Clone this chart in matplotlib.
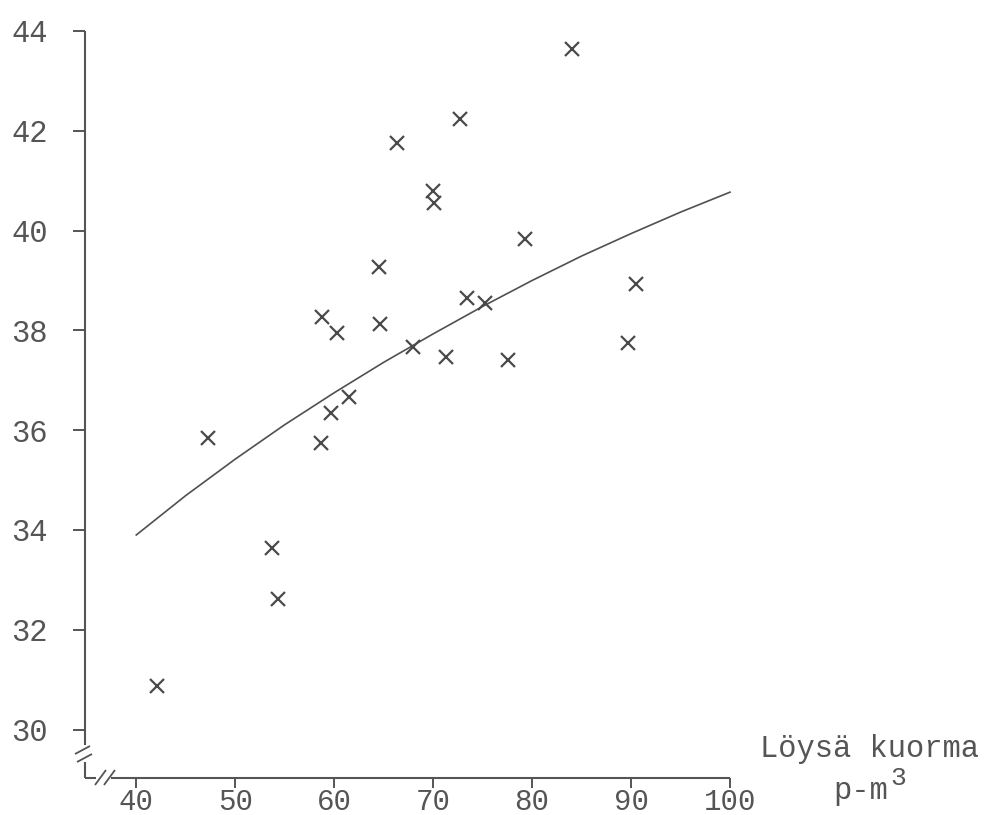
import matplotlib
matplotlib.use("Agg")
import matplotlib.pyplot as plt
from matplotlib.lines import Line2D

# ---- data ----
load_x = [42.12, 47.28, 53.74, 54.35, 58.64, 58.74, 59.65, 60.25, 61.53, 64.56,
          64.63, 66.32, 67.99, 70.02, 70.09, 71.27, 72.71, 73.45, 75.24, 77.59,
          79.28, 84.06, 89.72, 90.50]
value_y = [30.87, 35.84, 33.64, 32.61, 35.75, 38.26, 36.34, 37.95, 36.67, 39.28,
           38.12, 41.76, 37.67, 40.80, 40.55, 37.46, 42.23, 38.64, 38.55, 37.41,
           39.83, 43.63, 37.75, 38.93]
curve_x = [40, 45, 50, 55, 60, 65, 70, 75, 80, 85, 90, 95, 100]
curve_y = [33.90, 34.69, 35.42, 36.11, 36.75, 37.36, 37.93, 38.48, 39.00, 39.49,
           39.94, 40.37, 40.77]
x_ticks = [40, 50, 60, 70, 80, 90, 100]
y_ticks = [30, 32, 34, 36, 38, 40, 42, 44]
x_label = "Löysä kuorma"
x_unit = "p-m"
x_unit_sup = "3"

W, H = 997, 815
INK = "#555555"
FONT = "Liberation Mono"

fig = plt.figure(figsize=(W / 100, H / 100), dpi=100)
fig.patch.set_facecolor("white")

left_px, right_px, top_px, bottom_px = 85, 730, 31, 778
ax = fig.add_axes([left_px / W, 1 - bottom_px / H,
                   (right_px - left_px) / W, (bottom_px - top_px) / H])
ax.set_xlim(34.82, 100)
ax.set_ylim(29.03, 44)

ax.plot(curve_x, curve_y, color="#505050", lw=1.2, clip_on=False)
ax.plot(load_x, value_y, linestyle="none", marker="x", markersize=10,
        markeredgewidth=1.6, color="#4a4a4a", clip_on=False)

for s in ax.spines.values():
    s.set_visible(False)

ax.set_xticks(x_ticks)
ax.set_yticks(y_ticks)
ax.set_xticklabels([str(t) for t in x_ticks])
ax.set_yticklabels([str(t) for t in y_ticks])
ax.tick_params(axis="x", direction="out", length=7, width=1.4, color=INK,
               pad=0, labelsize=21, labelcolor=INK)
ax.tick_params(axis="y", direction="out", length=9, width=1.4, color=INK,
               pad=18, labelsize=22, labelcolor=INK)
for lab in ax.get_xticklabels() + ax.get_yticklabels():
    lab.set_fontfamily(FONT)


def fl(xs, ys, lw=1.5):
    fig.add_artist(Line2D([x / W for x in xs], [1 - y / H for y in ys],
                          color=INK, lw=lw, solid_capstyle="butt"))

# y axis with break
fl([left_px, left_px], [top_px, 745])
fl([left_px, left_px], [762, bottom_px])
# x axis with break
fl([left_px, 96], [bottom_px, bottom_px])
fl([111, right_px], [bottom_px, bottom_px])
# break slashes on y axis
fl([75, 90], [754, 746], lw=1.3)
fl([77, 92], [762, 754], lw=1.3)
# break slashes on x axis
fl([95, 106], [785, 770], lw=1.3)
fl([104, 115], [785, 770], lw=1.3)

# axis title on the right
fig.text(870 / W, 1 - 757 / H, x_label, ha="center", va="baseline",
         fontsize=22, color=INK, family=FONT)
fig.text(833 / W, 1 - 799 / H, x_unit, ha="left", va="baseline",
         fontsize=22, color=INK, family=FONT)
fig.text(890 / W, 1 - 785 / H, x_unit_sup, ha="left", va="baseline",
         fontsize=19, color=INK, family=FONT)

fig.savefig("out.png", dpi=100)
